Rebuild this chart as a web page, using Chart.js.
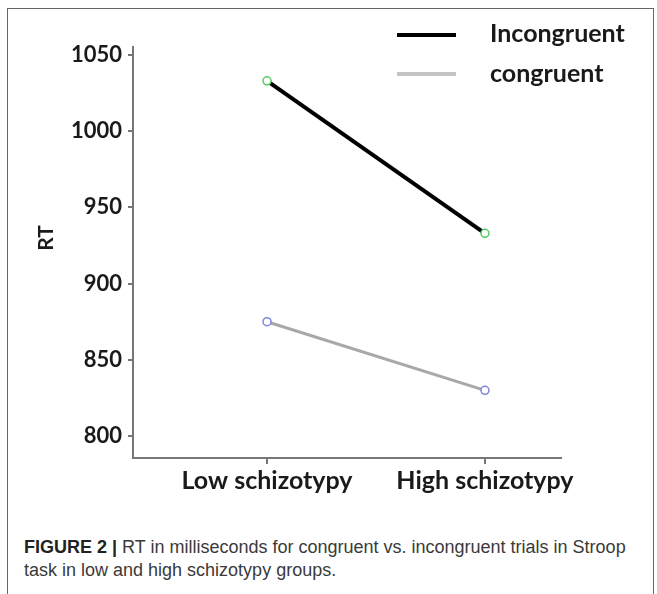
<!DOCTYPE html>
<html>
<head>
<meta charset="utf-8">
<script src="https://cdn.jsdelivr.net/npm/chart.js@4/dist/chart.umd.min.js"></script>
<style>
  html, body { margin: 0; padding: 0; background: #fff; }
  body { width: 657px; height: 594px; position: relative; overflow: hidden; }
  #frame { position: absolute; left: 7px; top: 8px; width: 647px; height: 600px;
           border: 1.5px solid #666; border-bottom: none; box-sizing: border-box; }
  #wrap { position: absolute; left: 0; top: 0; width: 657px; height: 530px; }
  #caption { position: absolute; left: 24px; top: 536px; width: 615px;
             font-family: "Liberation Sans", Arial, sans-serif; font-size: 18px;
             line-height: 23px; color: #3a3a3a; }
  #caption b { color: #222; }
</style>
</head>
<body>
<div id="frame"></div>
<div id="wrap"><canvas id="c" width="657" height="530"></canvas></div>
<div id="caption"><b>FIGURE 2 |</b> RT in milliseconds for congruent vs. incongruent trials in Stroop task in low and high schizotypy groups.</div>
<script>
const categories = ["Low schizotypy", "High schizotypy"];
const incongruent = [1033, 933];
const congruent = [875, 830];
const yTickValues = [800, 850, 900, 950, 1000, 1050];
const seriesNames = ["Incongruent", "congruent"];
const yTitle = "RT";

const FONT = "Lato, 'Open Sans', sans-serif";

const legendPlugin = {
  id: 'customLegend',
  afterDraw(chart) {
    const ctx = chart.ctx;
    const rows = [35, 75];
    chart.data.datasets.forEach((ds, i) => {
      const y = rows[i];
      ctx.save();
      ctx.strokeStyle = ds.legendColor;
      ctx.lineWidth = 4;
      ctx.beginPath();
      ctx.moveTo(397, i === 0 ? y : y - 1);
      ctx.lineTo(456, i === 0 ? y : y - 1);
      ctx.stroke();
      ctx.fillStyle = '#1a1a1a';
      ctx.font = "bold 25px " + FONT;
      ctx.textBaseline = 'middle';
      ctx.textAlign = 'left';
      ctx.fillText(ds.label, 490, y - 1);
      ctx.restore();
    });
    // y-axis title
    ctx.save();
    ctx.translate(46, 238);
    ctx.rotate(-Math.PI / 2);
    ctx.fillStyle = '#1a1a1a';
    ctx.font = "bold 21px " + FONT;
    ctx.textAlign = 'center';
    ctx.textBaseline = 'middle';
    ctx.fillText(yTitle, 0, 0);
    ctx.restore();
  }
};

const toXY = arr => arr.map((v, i) => ({ x: i, y: v }));

new Chart(document.getElementById('c'), {
  type: 'line',
  data: {
    datasets: [
      { label: seriesNames[0], data: toXY(incongruent), borderColor: '#000', legendColor: '#000',
        borderWidth: 4, pointRadius: 4, pointBorderColor: '#55cc66', pointBackgroundColor: '#fff',
        pointBorderWidth: 1.5 },
      { label: seriesNames[1], data: toXY(congruent), borderColor: '#a8a8a8', legendColor: '#c4c4c4',
        borderWidth: 3, pointRadius: 4, pointBorderColor: '#7f85dd', pointBackgroundColor: '#fff',
        pointBorderWidth: 1.5 }
    ]
  },
  options: {
    responsive: false,
    animation: false,
    layout: { padding: { left: 0, top: 47, right: 96, bottom: 0 } },
    plugins: { legend: { display: false }, tooltip: { enabled: false } },
    scales: {
      x: {
        type: 'linear',
        min: -0.615, max: 1.349,
        afterBuildTicks: s => { s.ticks = categories.map((c, i) => ({ value: i })); },
        afterFit: s => { s.height = 72; },
        grid: { drawOnChartArea: false, tickLength: 6, color: '#777', lineWidth: 2 },
        border: { color: '#777', width: 2 },
        ticks: { callback: v => categories[v], font: { family: FONT, size: 25, weight: 'bold' },
                 color: '#1a1a1a', padding: 2, maxRotation: 0 }
      },
      y: {
        min: 785.6, max: 1055.2,
        afterBuildTicks: s => { s.ticks = yTickValues.map(v => ({ value: v })); },
        afterFit: s => { s.width = 133; },
        grid: { drawOnChartArea: false, tickLength: 5, color: '#777', lineWidth: 2 },
        border: { color: '#777', width: 2 },
        ticks: { callback: v => String(v), font: { family: FONT, size: 22, weight: 'bold' },
                 color: '#1a1a1a', padding: 6 }
      }
    }
  },
  plugins: [legendPlugin]
});
</script>
</body>
</html>
